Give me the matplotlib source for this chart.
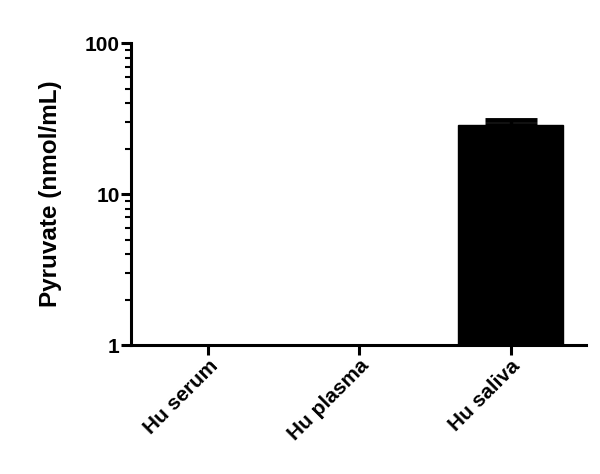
import numpy as np
import matplotlib.pyplot as plt
from matplotlib.ticker import FixedLocator, FixedFormatter, LogLocator, NullFormatter

plt.rcParams['font.family'] = ['Liberation Sans', 'DejaVu Sans']
plt.rcParams['font.weight'] = 'bold'

# data (serum / plasma are below the 1 nmol/mL axis floor)
samples = ["Hu serum", "Hu plasma", "Hu saliva"]
pyruvate = [0.0, 0.0, 28.5]
pyruvate_err = [0.0, 0.0, 2.5]

fig = plt.figure(figsize=(6, 4.74), dpi=100)
ax = fig.add_axes([0.218, 0.272, 0.759, 0.637])

x = np.arange(len(samples))
ax.set_yscale('log')
ax.bar(x, pyruvate, width=0.69, bottom=0, color='black', edgecolor='black')
ax.errorbar(x[2:], pyruvate[2:], yerr=[[0], pyruvate_err[2:]], fmt='none',
            ecolor='black', elinewidth=2.5, capsize=19, capthick=3.5)

ax.set_ylim(1, 100)
ax.set_xlim(-0.51, 2.5)

ax.yaxis.set_major_locator(FixedLocator([1, 10, 100]))
ax.yaxis.set_major_formatter(FixedFormatter(["1", "10", "100"]))
ax.yaxis.set_minor_locator(LogLocator(base=10, subs=np.arange(2, 10)))
ax.yaxis.set_minor_formatter(NullFormatter())

ax.set_xticks(x)
ax.set_xticklabels(samples, rotation=45, ha='right', rotation_mode='anchor',
                   fontsize=15, fontweight='bold')
for lbl in ax.get_yticklabels():
    lbl.set_fontsize(15)
    lbl.set_fontweight('bold')

ax.set_ylabel("Pyruvate (nmol/mL)", fontsize=17.5, fontweight='bold', labelpad=16)

for s in ['top', 'right']:
    ax.spines[s].set_visible(False)
for s in ['left', 'bottom']:
    ax.spines[s].set_linewidth(2.2)

ax.tick_params(axis='both', which='major', width=2.2, length=7, pad=1)
ax.tick_params(axis='y', which='minor', width=1.5, length=4)

fig.savefig("out.png", dpi=100)
